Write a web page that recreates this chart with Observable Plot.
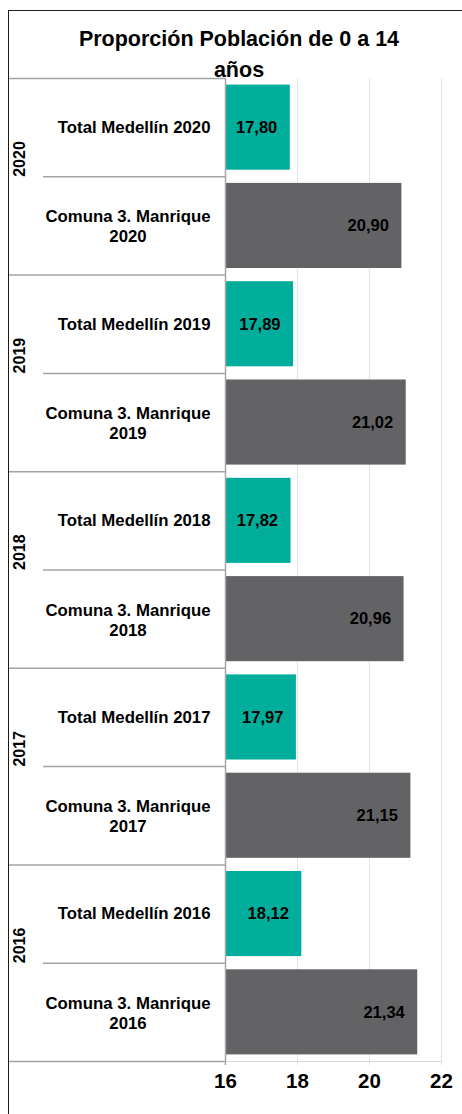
<!DOCTYPE html>
<html>
<head>
<meta charset="utf-8">
<script src="https://cdn.jsdelivr.net/npm/d3@7"></script>
<script src="https://cdn.jsdelivr.net/npm/@observablehq/plot@0.6"></script>
<style>
  html, body { margin: 0; padding: 0; background: #fff; }
  #wrap { position: relative; width: 462px; height: 1114px; overflow: hidden; }
  #frame { position: absolute; left: 8px; top: 10px; right: -4px; bottom: -4px;
           border-left: 1.5px solid #1a1a1a; border-top: 1.5px solid #1a1a1a; pointer-events: none; }
  #title { position: absolute; left: 69px; width: 340px; top: 24px; text-align: center;
           font-family: "Liberation Sans", Arial, sans-serif; font-weight: bold; font-size: 21.5px;
           line-height: 31px; color: #000; }
  #chart { position: absolute; left: 0; top: 0; }
</style>
</head>
<body>
<div id="wrap">
  <div id="chart"></div>
  <div id="frame"></div>
  <div id="title">Proporción Población de 0 a 14 años</div>
</div>
<script>
// ---- data ----
const years = [2020, 2019, 2018, 2017, 2016];
const totalMedellin = [17.80, 17.89, 17.82, 17.97, 18.12];
const comuna3 = [20.90, 21.02, 20.96, 21.15, 21.34];
const seriesNames = ["Total Medellín", "Comuna 3. Manrique"];
const xTicks = [16, 18, 20, 22];

// ---- table built from the arrays ----
const rows = [];
years.forEach((yr, g) => {
  rows.push({i: 2 * g, year: yr, series: 0, label: `${seriesNames[0]} ${yr}`, value: totalMedellin[g]});
  rows.push({i: 2 * g + 1, year: yr, series: 1, label: `${seriesNames[1]}\n${yr}`, value: comuna3[g]});
});
const groups = years.map((yr, g) => ({year: yr, g}));
const groupBounds = d3.range(0, rows.length + 1, 2);
const innerBounds = d3.range(1, rows.length, 2);
const fmt = v => v.toFixed(2).replace(".", ",");

const teal = "#00AE9B", gray = "#636365";
const font = "Liberation Sans, Arial, sans-serif";

const chart = Plot.plot({
  width: 462,
  height: 1114,
  marginLeft: 225,
  marginRight: 21,
  marginTop: 78,
  marginBottom: 53,
  style: {fontFamily: font, background: "transparent", overflow: "visible"},
  x: {domain: [16, 22], axis: null},
  y: {domain: [0, rows.length], reverse: true, axis: null},
  color: {domain: [0, 1], range: [teal, gray]},
  marks: [
    // gridlines
    Plot.ruleX(xTicks.slice(1), {stroke: "#dfe7e7", strokeWidth: 1.2, insetBottom: -4}),
    // bottom axis line
    Plot.ruleY([rows.length], {stroke: "#d4dada", strokeWidth: 1.2}),
    // bars
    Plot.rectX(rows, {
      x: "value", y1: "i", y2: d => d.i + 1, fill: d => d.series,
      insetTop: 6.6, insetBottom: 6.6, clip: true
    }),
    // y axis line
    Plot.ruleX([xTicks[0]], {stroke: "#a6a6a6", strokeWidth: 1.5, insetBottom: -4}),
    // separators in the category area
    Plot.ruleY(groupBounds, {y: d => d, stroke: "#a3a3a3", strokeWidth: 1.5, insetLeft: -216, insetRight: 216}),
    Plot.ruleY(innerBounds, {y: d => d, stroke: "#a3a3a3", strokeWidth: 1.5, insetLeft: -182, insetRight: 216}),
    // value labels
    Plot.text(rows, {
      x: "value", y: d => d.i + 0.5, text: d => fmt(d.value),
      textAnchor: "end", dx: -13, fontSize: 16.5, fontWeight: "bold", fill: "#000"
    }),
    // category labels
    Plot.text(rows.filter(d => d.series === 0), {
      y: d => d.i + 0.5, text: "label", frameAnchor: "left",
      textAnchor: "end", dx: -15, fontSize: 16.8, fontWeight: "bold", fill: "#000"
    }),
    Plot.text(rows.filter(d => d.series === 1), {
      y: d => d.i + 0.5, text: "label", frameAnchor: "left",
      textAnchor: "middle", dx: -97.5, lineHeight: 1.19, fontSize: 16.8, fontWeight: "bold", fill: "#000"
    }),
    // year labels
    Plot.text(groups, {
      y: d => 2 * d.g + 1, text: d => String(d.year), frameAnchor: "left",
      dx: -206, rotate: -90, fontSize: 16, fontWeight: "bold", fill: "#000"
    }),
    // x tick labels
    Plot.text(xTicks, {
      x: d => d, text: d => String(d), frameAnchor: "bottom", dy: 26,
      fontSize: 20.5, fontWeight: "bold", fill: "#000"
    })
  ]
});
document.getElementById("chart").appendChild(chart);
</script>
</body>
</html>
